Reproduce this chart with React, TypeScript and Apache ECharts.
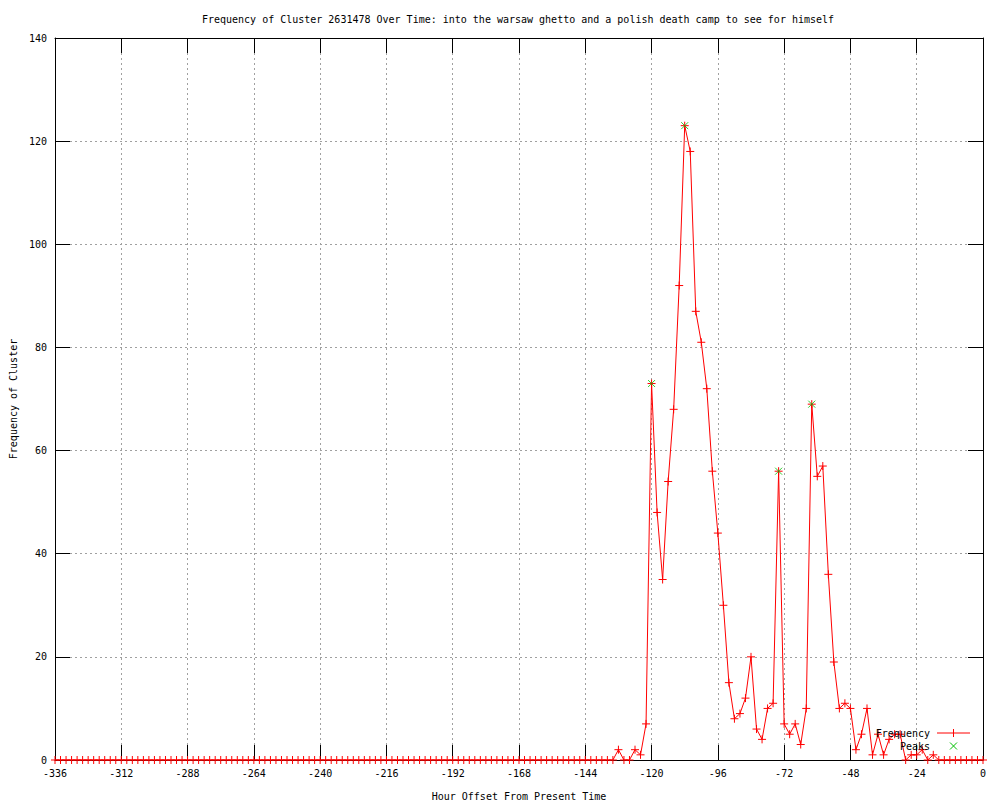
import React, { useEffect, useRef } from "react";
import * as echarts from "echarts";

const titleText =
  "Frequency of Cluster 2631478 Over Time: into the warsaw ghetto and a polish death camp to see for himself";
const xName = "Hour Offset From Present Time";
const yName = "Frequency of Cluster";

// one sample every 2 hours, from -336 to 0
const hours: number[] = Array.from({ length: 169 }, (_, i) => -336 + 2 * i);

const frequency: number[] = [
  // -336 .. -134
  0, 0, 0, 0, 0, 0, 0, 0, 0, 0, 0, 0, 0, 0, 0, 0, 0,
  0, 0, 0, 0, 0, 0, 0, 0, 0, 0, 0, 0, 0, 0, 0, 0, 0,
  0, 0, 0, 0, 0, 0, 0, 0, 0, 0, 0, 0, 0, 0, 0, 0, 0,
  0, 0, 0, 0, 0, 0, 0, 0, 0, 0, 0, 0, 0, 0, 0, 0, 0,
  0, 0, 0, 0, 0, 0, 0, 0, 0, 0, 0, 0, 0, 0, 0, 0, 0,
  0, 0, 0, 0, 0, 0, 0, 0, 0, 0, 0, 0, 0, 0, 0, 0, 0,
  // -132 .. -122
  2, 0, 0, 2, 1, 7,
  // -120 .. -90
  73, 48, 35, 54, 68, 92, 123, 118, 87, 81, 72, 56, 44, 30, 15, 8,
  // -88 .. -74
  9, 12, 20, 6, 4, 10, 11, 56,
  // -72 .. -46
  7, 5, 7, 3, 10, 69, 55, 57, 36, 19, 10, 11, 10, 2,
  // -44 .. -18
  5, 10, 1, 5, 1, 4, 5, 5, 0, 1, 1, 2, 0, 1,
  // -16 .. 0
  0, 0, 0, 0, 0, 0, 0, 0, 0,
];

const peakHours: number[] = [-120, -108, -74, -62];
const peakValues: number[] = [73, 123, 56, 69];

const xTicks = { min: -336, max: 0, interval: 24 };
const yTicks = { min: 0, max: 140, interval: 20 };

const FONT = "DejaVu Sans Mono";
const RED = "#ff0000";
const GREEN = "#00c000";
const PLUS = "path://M4,0L4,8M0,4L8,4";
const CROSS = "path://M0,0L8,8M8,0L0,8";

export default function App() {
  const ref = useRef<HTMLDivElement>(null);
  useEffect(() => {
    const chart = echarts.init(ref.current!, null, { renderer: "svg" });
    const lineData = hours.map((h, i) => [h, frequency[i]]);
    const peakData = peakHours.map((h, i) => [h, peakValues[i]]);
    const labelStyle = { color: "#000", fontFamily: FONT, fontSize: 10 };
    const gridLine = {
      show: true,
      lineStyle: { color: "#a0a0a0", width: 1, type: [2, 3] as number[] },
    };
    chart.setOption({
      animation: false,
      backgroundColor: "#ffffff",
      grid: {
        left: 55,
        right: 17,
        top: 38,
        bottom: 40,
        containLabel: false,
        outerBoundsMode: "none",
      },
      xAxis: [
        {
          type: "value",
          ...xTicks,
          name: xName,
          nameLocation: "middle",
          nameGap: 31,
          nameTextStyle: labelStyle,
          axisLine: { onZero: false, lineStyle: { color: "#000", width: 1 } },
          axisTick: { inside: true, length: 15, lineStyle: { color: "#000" } },
          axisLabel: { ...labelStyle, margin: 8 },
          splitLine: gridLine,
        },
        {
          type: "value",
          ...xTicks,
          position: "top",
          axisLine: { onZero: false, lineStyle: { color: "#000", width: 1 } },
          axisTick: { inside: true, length: 15, lineStyle: { color: "#000" } },
          axisLabel: { show: false },
          splitLine: { show: false },
        },
      ],
      yAxis: [
        {
          type: "value",
          ...yTicks,
          name: yName,
          nameLocation: "middle",
          nameGap: 37,
          nameRotate: 90,
          nameTextStyle: labelStyle,
          axisLine: { show: true, onZero: false, lineStyle: { color: "#000", width: 1 } },
          axisTick: { show: true, inside: true, length: 15, lineStyle: { color: "#000" } },
          axisLabel: { ...labelStyle, margin: 8 },
          splitLine: gridLine,
        },
        {
          type: "value",
          ...yTicks,
          position: "right",
          axisLine: { show: true, onZero: false, lineStyle: { color: "#000", width: 1 } },
          axisTick: { show: true, inside: true, length: 15, lineStyle: { color: "#000" } },
          axisLabel: { show: false },
          splitLine: { show: false },
        },
      ],
      series: [
        {
          name: "Frequency",
          type: "line",
          data: lineData,
          symbol: PLUS,
          symbolSize: 8,
          showAllSymbol: true,
          z: 3,
          lineStyle: { color: RED, width: 1 },
          itemStyle: { color: RED, borderColor: RED, borderWidth: 1 },
        },
        {
          name: "Peaks",
          type: "scatter",
          data: peakData,
          symbol: CROSS,
          symbolSize: 7,
          z: 4,
          itemStyle: { color: GREEN, borderColor: GREEN, borderWidth: 1 },
        },
      ],
      graphic: [
        {
          type: "text",
          x: 518,
          y: 19,
          style: {
            text: titleText,
            fill: "#000",
            font: `10px "${FONT}"`,
            textAlign: "center",
            textVerticalAlign: "middle",
          },
        },
        {
          type: "text",
          x: 930,
          y: 733,
          z: 10,
          style: {
            text: "Frequency",
            fill: "#000",
            font: `10px "${FONT}"`,
            textAlign: "right",
            textVerticalAlign: "middle",
          },
        },
        {
          type: "line",
          z: 10,
          shape: { x1: 937, y1: 733, x2: 970, y2: 733 },
          style: { stroke: RED, lineWidth: 1 },
        },
        {
          type: "line",
          z: 10,
          shape: { x1: 953.5, y1: 729, x2: 953.5, y2: 737 },
          style: { stroke: RED, lineWidth: 1 },
        },
        {
          type: "text",
          x: 930,
          y: 746,
          z: 10,
          style: {
            text: "Peaks",
            fill: "#000",
            font: `10px "${FONT}"`,
            textAlign: "right",
            textVerticalAlign: "middle",
          },
        },
        {
          type: "line",
          z: 10,
          shape: { x1: 950, y1: 742.5, x2: 957, y2: 749.5 },
          style: { stroke: GREEN, lineWidth: 1 },
        },
        {
          type: "line",
          z: 10,
          shape: { x1: 957, y1: 742.5, x2: 950, y2: 749.5 },
          style: { stroke: GREEN, lineWidth: 1 },
        },
      ],
    });
    return () => chart.dispose();
  }, []);
  return (
    <div
      ref={ref}
      style={{ position: "absolute", left: 0, top: 0, width: 1000, height: 800, background: "#fff" }}
    />
  );
}
